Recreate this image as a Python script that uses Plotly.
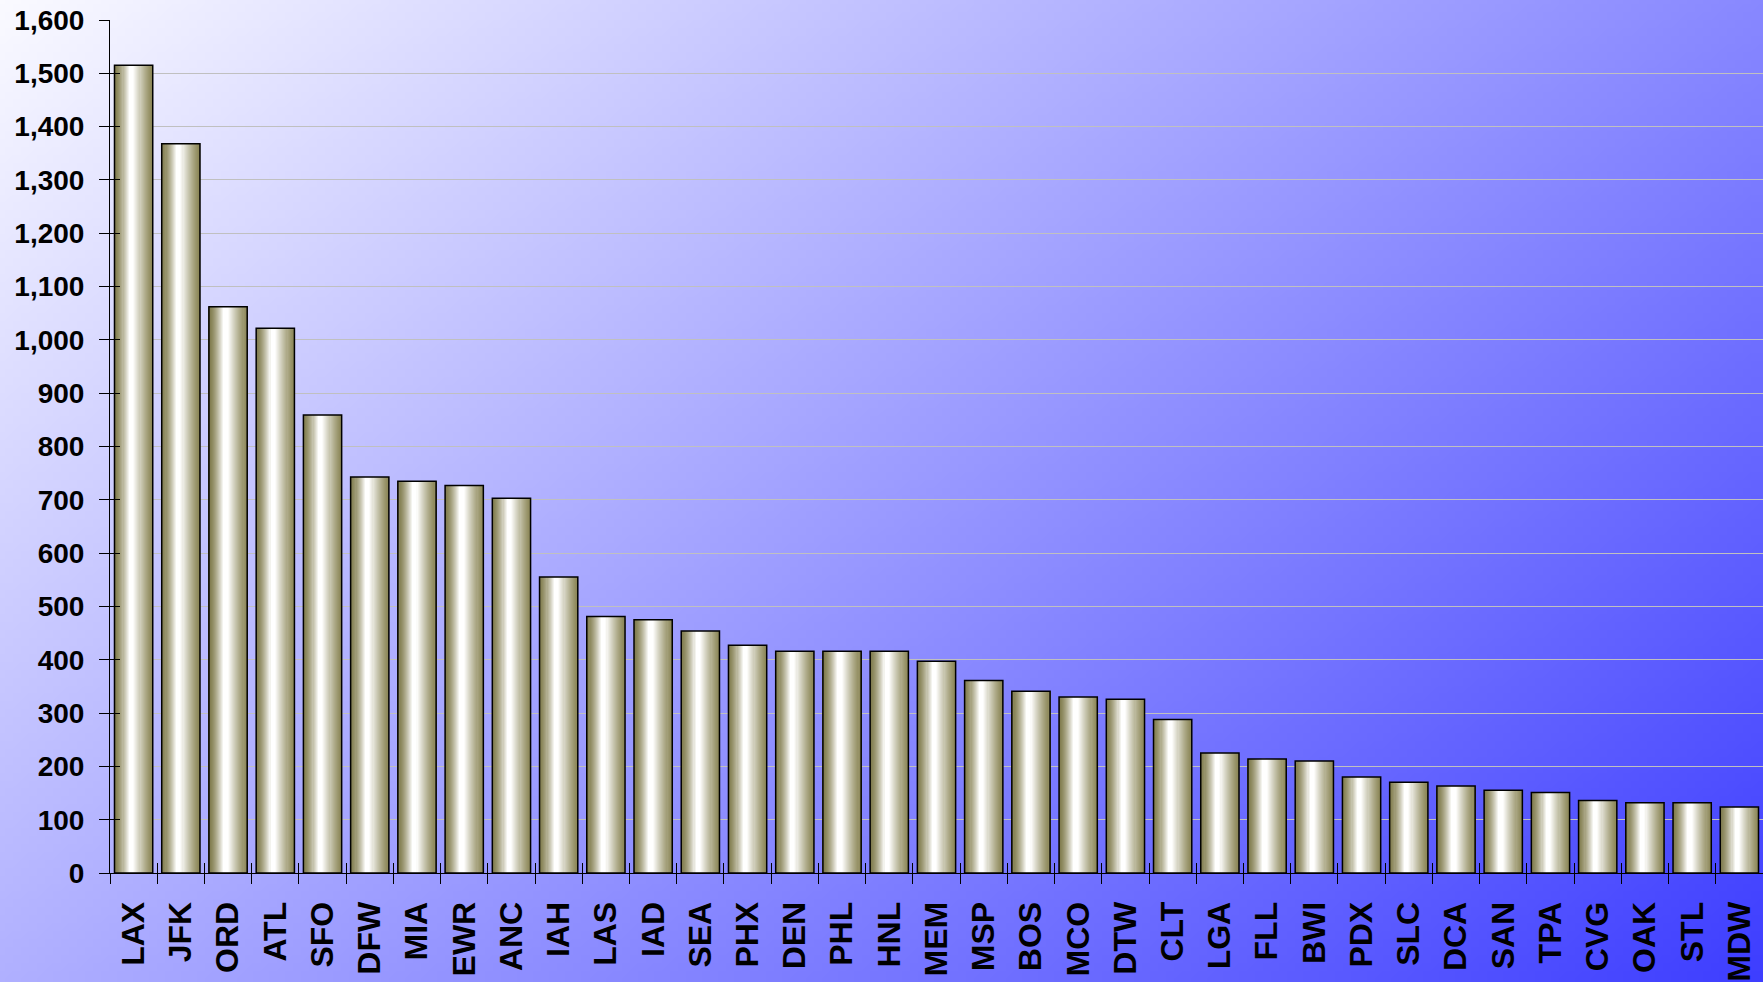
import base64, struct, zlib
import plotly.graph_objects as go

airports = ["LAX", "JFK", "ORD", "ATL", "SFO", "DFW", "MIA", "EWR", "ANC", "IAH",
            "LAS", "IAD", "SEA", "PHX", "DEN", "PHL", "HNL", "MEM", "MSP", "BOS",
            "MCO", "DTW", "CLT", "LGA", "FLL", "BWI", "PDX", "SLC", "DCA", "SAN",
            "TPA", "CVG", "OAK", "STL", "MDW"]
values = [1515, 1368, 1062, 1022, 859, 743, 735, 727, 703, 555,
          481, 475, 454, 427, 416, 416, 416, 397, 361, 341,
          330, 326, 288, 225, 214, 210, 180, 170, 163, 155,
          151, 136, 132, 132, 124]
y_ticks = list(range(0, 1601, 100))

W, H = 1763, 982
ML, MR, MT, MB = 110, 0, 20, 109
PW, PH = W - ML - MR, H - MT - MB


def make_bg_png(w=220, h=124):
    rows = []
    for j in range(h):
        row = bytearray([0])
        fy = j / (h - 1)
        for i in range(w):
            fx = i / (w - 1)
            v = 250 - 114 * fx - 74 * fy
            v = max(0, min(255, int(round(v))))
            row += bytes([v, v, 255])
        rows.append(bytes(row))
    raw = b"".join(rows)

    def chunk(tag, data):
        c = struct.pack(">I", len(data)) + tag + data
        return c + struct.pack(">I", zlib.crc32(tag + data) & 0xffffffff)

    png = b"\x89PNG\r\n\x1a\n"
    png += chunk(b"IHDR", struct.pack(">IIBBBBB", w, h, 8, 2, 0, 0, 0))
    png += chunk(b"IDAT", zlib.compress(raw, 9))
    png += chunk(b"IEND", b"")
    return "data:image/png;base64," + base64.b64encode(png).decode()


fig = go.Figure()

# cylinder-like shading made from thin vertical strips of each bar
BAR_W = 0.81
N = 36
edge_l = (128, 123, 76)
edge_r = (140, 135, 88)
peak_a, peak_b = 0.40, 0.50
for k in range(N):
    t = (k + 0.5) / N
    if t <= peak_a:
        s = (t / peak_a) ** 1.5
        base = edge_l
    elif t <= peak_b:
        s = 1.0
        base = edge_r
    else:
        s = ((1 - t) / (1 - peak_b)) ** 1.2
        base = edge_r
    col = tuple(int(round(base[c] + (255 - base[c]) * s)) for c in range(3))
    fig.add_trace(go.Bar(
        x=airports, y=values, width=BAR_W / N * 1.2,
        offset=-BAR_W / 2 + k * BAR_W / N,
        marker=dict(color="rgb(%d,%d,%d)" % col, line=dict(width=0)),
        hoverinfo="skip", showlegend=False))

# outline
fig.add_trace(go.Bar(
    x=airports, y=values, width=BAR_W, offset=-BAR_W / 2,
    marker=dict(color="rgba(0,0,0,0)", line=dict(color="black", width=1.5)),
    showlegend=False))

# helper trace for the inside half of the crossing ticks
fig.add_trace(go.Scatter(x=airports, y=values, xaxis="x2", yaxis="y2",
                         mode="markers", marker=dict(opacity=0),
                         hoverinfo="skip", showlegend=False))

font_lbl = dict(family="Liberation Sans, Arial, sans-serif", color="black", weight="bold")

fig.update_layout(
    width=W, height=H,
    margin=dict(l=ML, r=MR, t=MT, b=MB),
    barmode="overlay",
    paper_bgcolor="#f0f0ff",
    plot_bgcolor="rgba(0,0,0,0)",
    showlegend=False,
    images=[dict(source=make_bg_png(), xref="paper", yref="paper",
                 x=-ML / PW, y=1 + MT / PH, sizex=W / PW, sizey=H / PH,
                 xanchor="left", yanchor="top", sizing="stretch", layer="below")],
    xaxis=dict(type="category", categoryorder="array", categoryarray=airports,
               tickson="boundaries", ticks="outside", ticklen=10, tickcolor="black",
               tickwidth=1, showline=True, linecolor="black", linewidth=1,
               tickangle=-90, tickfont=dict(size=32, **font_lbl),
               ticklabelstandoff=15, showgrid=False, range=[-0.5, len(airports) - 0.5]),
    yaxis=dict(range=[0, 1600], tickvals=y_ticks, tickformat=",",
               ticks="outside", ticklen=10, tickcolor="black", tickwidth=1,
               showline=True, linecolor="black", linewidth=1,
               showgrid=True, gridcolor="#c0c0c0", gridwidth=1,
               tickfont=dict(size=28, **font_lbl), ticklabelstandoff=9,
               zeroline=False),
    xaxis2=dict(type="category", categoryorder="array", categoryarray=airports,
                overlaying="x", matches="x", tickson="boundaries", ticks="inside",
                ticklen=10, tickcolor="black", tickwidth=1, showticklabels=False,
                showgrid=False, showline=False, side="bottom"),
    yaxis2=dict(overlaying="y", matches="y", tickvals=y_ticks, ticks="inside",
                ticklen=10, tickcolor="black", tickwidth=1, showticklabels=False,
                showgrid=False, showline=False, side="left", zeroline=False),
)

fig.write_html("out.html")
